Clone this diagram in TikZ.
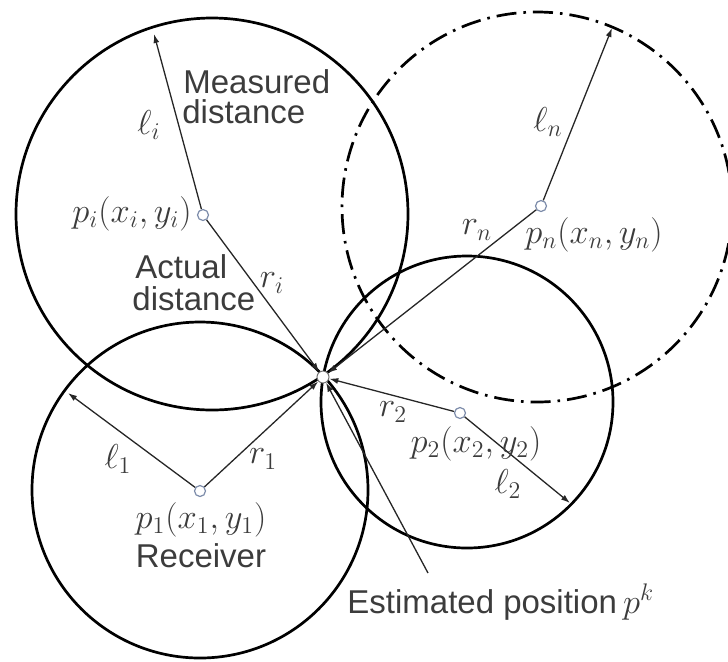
\documentclass[tikz,border=0pt]{standalone}
\usepackage{fontspec}
\setsansfont{Liberation Sans}
\definecolor{LabelGray}{RGB}{60,60,60}
\definecolor{MarkBlue}{RGB}{125,140,170}
\usetikzlibrary{positioning,arrows.meta}

\tikzset{
  ring/.style={draw=black,line width=1.35pt},
  distline/.style={draw=black!85,line width=0.65pt,-{Latex[length=4.5pt,width=3pt]}},
  beacon/.style={circle,draw=MarkBlue,fill=white,line width=0.6pt,inner sep=0pt,minimum size=5.5pt},
  word/.style={font=\sffamily\fontsize{16.5}{19}\selectfont,text=LabelGray,inner sep=0pt},
  sym/.style={font=\fontsize{17.28}{19}\selectfont,text=LabelGray,inner sep=0pt},
}

\begin{document}
\begin{tikzpicture}[x=0.5pt,y=-0.5pt]
  \useasboundingbox (0,0) rectangle (728,661);

  % measured distance circles
  \draw[ring] (212,214) circle (196);
  \draw[ring] (200,490) circle (168);
  \draw[ring] (467,402) circle (146);
  \draw[ring,dash pattern={on 10pt off 3.5pt on 1.3pt off 3.5pt}] (537,207) circle (195);

  % receivers and estimated position
  \node[beacon] (pi) at (203,215) {};
  \node[beacon] (p1) at (200,491) {};
  \node[beacon] (p2) at (460,413) {};
  \node[beacon] (pn) at (541,206) {};
  \node[circle,draw=black!55,fill=white,line width=0.5pt,inner sep=0pt,minimum size=6pt] (est) at (323,377) {};

  \coordinate (li) at (154,34);
  \coordinate (l1) at (68,393);
  \coordinate (l2) at (570,503);
  \coordinate (ln) at (612,28);
  \coordinate (ptr) at (428,573);

  \draw[distline] (pi) -- (li);
  \draw[distline] (pi) -- (est);
  \draw[distline] (p1) -- (l1);
  \draw[distline] (p1) -- (est);
  \draw[distline] (p2) -- (l2);
  \draw[distline] (p2) -- (est);
  \draw[distline] (pn) -- (ln);
  \draw[distline] (pn) -- (est);
  \draw[distline] (ptr) -- (est);

  % labels
  \node[word,anchor=base west] (meas) at (183,93) {Measured};
  \node[word,anchor=base west] (measb) at (182,123) {distance};
  \node[word,anchor=base west] (act) at (135,278) {Actual};
  \node[word,anchor=base west] (actb) at (132,310) {distance};
  \node[sym] (lilab) at (149,125) {$\ell_i$};
  \node[sym] (pilab) at (132,214) {$p_i(x_i,y_i)$};
  \node[sym] (rilab) at (272,283) {$r_i$};
  \node[sym] (lnlab) at (548,122) {$\ell_n$};
  \node[sym] (rnlab) at (477,230) {$r_n$};
  \node[sym] (pnlab) at (594,235) {$p_n(x_n,y_n)$};
  \node[sym] (l1lab) at (118,459) {$\ell_1$};
  \node[sym] (r1lab) at (263,459) {$r_1$};
  \node[sym] (p1lab) at (201,520) {$p_1(x_1,y_1)$};
  \node[word,below=3pt of p1lab] (recv) {Receiver};
  \node[sym] (r2lab) at (393,412) {$r_2$};
  \node[sym] (p2lab) at (476,444) {$p_2(x_2,y_2)$};
  \node[sym] (l2lab) at (508,484) {$\ell_2$};
  \node[word,anchor=base west] (estlab) at (347,613) {Estimated position\hspace{3pt}$p^k$};
\end{tikzpicture}
\end{document}
